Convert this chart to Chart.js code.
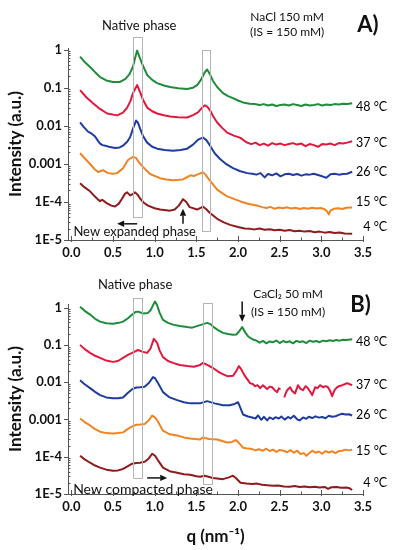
<!DOCTYPE html>
<html><head><meta charset="utf-8">
<script src="https://cdn.jsdelivr.net/npm/chart.js@4/dist/chart.umd.min.js"></script>
<style>
html,body{margin:0;padding:0;background:#fff;}
#wrap{position:relative;width:398px;height:550px;overflow:hidden;}
#ca{position:absolute;left:0;top:0;}
#cb{position:absolute;left:0;top:262px;}
</style></head><body>
<div id="wrap">
<canvas id="ca" width="398" height="262"></canvas>
<canvas id="cb" width="398" height="288"></canvas>
</div>
<script>
// ---------- DATA ----------
const temps = ['48 °C', '37 °C', '26 °C', '15 °C', '4 °C'];
const xTickValues = [0, 0.5, 1, 1.5, 2, 2.5, 3, 3.5];
const xTickLabels = ['0.0', '0.5', '1.0', '1.5', '2.0', '2.5', '3.0', '3.5'];
const yTickValues = [1e-5, 1e-4, 1e-3, 1e-2, 1e-1, 1];
const yTickLabels = ['1E-5', '1E-4', '0.001', '0.01', '0.1', '1'];

// Panel A: NaCl 150 mM  [q, intensity]
const naCl48 = [[0.105,0.65],[0.16,0.47],[0.225,0.35],[0.285,0.255],[0.345,0.19],[0.42,0.155],[0.50,0.141],[0.585,0.141],[0.65,0.17],[0.70,0.23],[0.74,0.36],[0.765,0.60],[0.79,0.94],[0.815,0.66],[0.85,0.42],[0.91,0.216],[0.97,0.16],[1.03,0.132],[1.11,0.114],[1.185,0.104],[1.28,0.096],[1.39,0.092],[1.46,0.10],[1.51,0.117],[1.555,0.16],[1.60,0.25],[1.63,0.30],[1.665,0.22],[1.70,0.15],[1.75,0.104],[1.82,0.072],[1.88,0.060],[1.94,0.053],[2.0,0.046],[2.06,0.041],[2.14,0.038],[2.2,0.037],[2.26,0.035],[2.31,0.037],[2.36,0.034],[2.41,0.036],[2.46,0.033],[2.51,0.035],[2.56,0.036],[2.61,0.034],[2.66,0.037],[2.71,0.035],[2.76,0.033],[2.81,0.036],[2.86,0.034],[2.91,0.035],[2.96,0.037],[3.01,0.034],[3.06,0.036],[3.11,0.035],[3.16,0.037],[3.21,0.036],[3.26,0.038],[3.31,0.037],[3.37,0.039]];
const naCl37 = [[0.105,0.086],[0.18,0.056],[0.26,0.039],[0.34,0.028],[0.43,0.021],[0.55,0.0187],[0.62,0.022],[0.67,0.030],[0.71,0.045],[0.74,0.072],[0.79,0.117],[0.825,0.076],[0.86,0.048],[0.91,0.030],[0.97,0.024],[1.03,0.021],[1.11,0.0188],[1.185,0.0176],[1.28,0.0168],[1.39,0.0165],[1.46,0.019],[1.52,0.0224],[1.57,0.030],[1.605,0.0344],[1.635,0.031],[1.665,0.0254],[1.70,0.018],[1.75,0.0122],[1.81,0.0088],[1.87,0.0066],[1.95,0.0055],[2.03,0.0048],[2.1,0.0037],[2.16,0.0033],[2.21,0.0036],[2.26,0.0031],[2.31,0.0034],[2.36,0.0030],[2.41,0.0035],[2.46,0.0032],[2.51,0.0034],[2.56,0.0031],[2.61,0.0033],[2.66,0.0035],[2.71,0.0032],[2.76,0.0034],[2.81,0.0029],[2.86,0.0033],[2.91,0.0031],[2.96,0.0028],[3.01,0.0033],[3.06,0.0032],[3.11,0.0034],[3.16,0.0031],[3.21,0.0035],[3.26,0.0034],[3.31,0.0036],[3.37,0.0039]];
const naCl26 = [[0.105,0.0122],[0.15,0.0092],[0.2,0.0070],[0.245,0.0062],[0.285,0.0052],[0.32,0.0040],[0.345,0.0034],[0.375,0.0031],[0.405,0.0030],[0.45,0.0028],[0.525,0.0026],[0.58,0.0027],[0.62,0.0030],[0.67,0.0038],[0.705,0.0050],[0.74,0.0084],[0.777,0.0137],[0.80,0.012],[0.825,0.0084],[0.86,0.0054],[0.91,0.0036],[0.97,0.0028],[1.03,0.0025],[1.12,0.0023],[1.22,0.0022],[1.31,0.0023],[1.39,0.0025],[1.46,0.0032],[1.52,0.0043],[1.58,0.0049],[1.62,0.0042],[1.665,0.0030],[1.72,0.0019],[1.785,0.00134],[1.86,0.00098],[1.94,0.00077],[2.02,0.00065],[2.11,0.00057],[2.17,0.00055],[2.22,0.00052],[2.27,0.00057],[2.32,0.00044],[2.36,0.00054],[2.41,0.00050],[2.46,0.00056],[2.51,0.00047],[2.56,0.00053],[2.61,0.00055],[2.66,0.00051],[2.71,0.00054],[2.76,0.00049],[2.81,0.00053],[2.86,0.00052],[2.91,0.00055],[2.96,0.00051],[3.01,0.00047],[3.06,0.00043],[3.11,0.00053],[3.16,0.00055],[3.21,0.00052],[3.26,0.00054],[3.31,0.00055],[3.37,0.00062]];
const naCl15 = [[0.105,0.0019],[0.16,0.0014],[0.225,0.00099],[0.28,0.00072],[0.32,0.00061],[0.38,0.00068],[0.44,0.00057],[0.50,0.00055],[0.55,0.00057],[0.62,0.00077],[0.68,0.00126],[0.74,0.00152],[0.777,0.00143],[0.81,0.0011],[0.85,0.00087],[0.945,0.00054],[1.065,0.00042],[1.14,0.00039],[1.22,0.00037],[1.29,0.00038],[1.34,0.00039],[1.40,0.00046],[1.43,0.00050],[1.47,0.00048],[1.51,0.00052],[1.58,0.00060],[1.61,0.00052],[1.64,0.00042],[1.70,0.00029],[1.75,0.00021],[1.81,0.00017],[1.87,0.00014],[1.95,0.00012],[2.03,0.000103],[2.13,8.8e-5],[2.23,8.0e-5],[2.29,7.3e-5],[2.34,6.9e-5],[2.39,7.4e-5],[2.44,6.6e-5],[2.49,7.1e-5],[2.54,6.8e-5],[2.59,7.2e-5],[2.64,6.7e-5],[2.69,7.0e-5],[2.74,6.5e-5],[2.79,6.9e-5],[2.84,6.6e-5],[2.89,7.0e-5],[2.94,6.7e-5],[2.99,6.9e-5],[3.04,6.4e-5],[3.07,5.6e-5],[3.09,4.7e-5],[3.11,5.9e-5],[3.15,6.6e-5],[3.2,6.8e-5],[3.25,6.5e-5],[3.3,7.0e-5],[3.37,7.1e-5]];
const naCl4 = [[0.105,0.00031],[0.16,0.00024],[0.225,0.00019],[0.28,0.00014],[0.32,0.000116],[0.345,0.000105],[0.37,0.000114],[0.40,0.000102],[0.43,9.1e-5],[0.48,8.0e-5],[0.525,7.6e-5],[0.57,9.0e-5],[0.61,0.000123],[0.645,0.000165],[0.67,0.000178],[0.705,0.000148],[0.735,0.000160],[0.765,0.000178],[0.795,0.000155],[0.825,0.000123],[0.87,9.5e-5],[0.92,8.0e-5],[1.0,6.8e-5],[1.065,6.3e-5],[1.185,5.9e-5],[1.24,6.3e-5],[1.29,8.0e-5],[1.34,0.000118],[1.38,0.0001],[1.42,7.3e-5],[1.51,6.3e-5],[1.58,7.5e-5],[1.62,6.4e-5],[1.66,5.2e-5],[1.75,3.6e-5],[1.83,2.9e-5],[1.905,2.5e-5],[2.0,2.2e-5],[2.08,2.0e-5],[2.145,1.96e-5],[2.2,1.9e-5],[2.26,2.0e-5],[2.32,1.85e-5],[2.38,1.92e-5],[2.44,1.8e-5],[2.5,1.86e-5],[2.56,1.75e-5],[2.62,1.82e-5],[2.68,1.7e-5],[2.74,1.76e-5],[2.8,1.66e-5],[2.86,1.72e-5],[2.92,1.6e-5],[2.98,1.66e-5],[3.04,1.56e-5],[3.1,1.62e-5],[3.16,1.52e-5],[3.22,1.57e-5],[3.28,1.48e-5],[3.37,1.46e-5]];

// Panel B: CaCl2 50 mM  [q, intensity]
const caCl48 = [[0.105,1.06],[0.16,0.82],[0.225,0.65],[0.285,0.5],[0.345,0.42],[0.42,0.38],[0.50,0.37],[0.57,0.39],[0.62,0.42],[0.68,0.52],[0.73,0.65],[0.77,0.76],[0.80,0.78],[0.83,0.74],[0.86,0.70],[0.92,0.72],[0.95,0.85],[0.98,1.15],[1.005,1.45],[1.03,1.15],[1.06,0.72],[1.10,0.47],[1.16,0.39],[1.22,0.35],[1.30,0.32],[1.39,0.30],[1.45,0.29],[1.545,0.34],[1.63,0.39],[1.67,0.36],[1.70,0.31],[1.76,0.25],[1.82,0.21],[1.88,0.195],[1.94,0.186],[1.98,0.19],[2.01,0.225],[2.05,0.30],[2.085,0.22],[2.12,0.17],[2.145,0.155],[2.18,0.14],[2.22,0.13],[2.26,0.115],[2.3,0.128],[2.34,0.11],[2.38,0.124],[2.42,0.118],[2.46,0.131],[2.5,0.112],[2.54,0.127],[2.58,0.118],[2.62,0.125],[2.66,0.11],[2.7,0.128],[2.74,0.12],[2.78,0.125],[2.82,0.112],[2.86,0.13],[2.9,0.121],[2.94,0.127],[2.98,0.118],[3.02,0.13],[3.06,0.125],[3.1,0.133],[3.14,0.127],[3.18,0.135],[3.22,0.13],[3.26,0.138],[3.3,0.135],[3.37,0.142]];
const caCl37 = [[0.105,0.1],[0.16,0.077],[0.225,0.061],[0.285,0.051],[0.345,0.045],[0.42,0.038],[0.50,0.035],[0.56,0.037],[0.62,0.045],[0.68,0.054],[0.73,0.061],[0.80,0.073],[0.85,0.066],[0.91,0.061],[0.95,0.08],[0.99,0.145],[1.03,0.113],[1.06,0.07],[1.10,0.047],[1.16,0.037],[1.22,0.033],[1.30,0.029],[1.39,0.027],[1.47,0.026],[1.545,0.029],[1.58,0.033],[1.63,0.029],[1.70,0.024],[1.78,0.018],[1.87,0.0145],[1.94,0.0148],[1.98,0.02],[2.01,0.027],[2.04,0.022],[2.08,0.015],[2.145,0.0094],[2.18,0.0088],[2.205,0.0078],[2.235,0.0083],[2.265,0.0069],[2.30,0.0083],[2.33,0.0072],[2.35,0.0065],[2.38,0.0076],[2.41,0.0073],[2.44,0.0061],[2.47,0.0054],[2.49,0.0068],[2.51,0.0065],[2.53,null],[2.555,0.0039],[2.575,0.0052],[2.59,0.0061],[2.625,0.0073],[2.65,0.0058],[2.685,0.005],[2.72,0.0083],[2.75,0.0066],[2.78,0.0061],[2.81,0.0078],[2.83,0.0073],[2.86,0.0058],[2.89,0.0045],[2.925,0.0073],[2.955,0.0069],[2.985,0.0083],[3.02,0.0073],[3.05,0.0078],[3.08,0.0073],[3.11,0.0055],[3.13,0.0042],[3.16,0.0062],[3.19,0.0073],[3.22,0.0079],[3.25,0.0083],[3.28,0.0088],[3.31,0.0094],[3.34,0.0088],[3.37,0.0083]];
const caCl26 = [[0.105,0.0113],[0.16,0.0088],[0.225,0.0069],[0.285,0.0055],[0.345,0.0045],[0.42,0.0039],[0.50,0.0037],[0.56,0.0037],[0.62,0.0039],[0.68,0.0052],[0.73,0.0065],[0.78,0.0072],[0.825,0.0073],[0.88,0.0075],[0.93,0.0095],[0.98,0.0137],[1.005,0.0128],[1.04,0.0095],[1.10,0.0054],[1.18,0.0039],[1.27,0.0033],[1.35,0.0029],[1.425,0.0027],[1.545,0.0027],[1.63,0.0031],[1.72,0.0027],[1.82,0.0024],[1.9,0.0024],[1.96,0.0026],[2.0,0.0029],[2.03,0.002],[2.06,0.00136],[2.12,0.0012],[2.17,0.00113],[2.21,0.00106],[2.24,0.00128],[2.28,0.00098],[2.31,0.00118],[2.35,0.00094],[2.38,0.00113],[2.42,0.00102],[2.45,0.00115],[2.49,0.00106],[2.52,0.0012],[2.56,0.00099],[2.6,0.00117],[2.63,0.00106],[2.67,0.00126],[2.71,0.00101],[2.74,0.00094],[2.78,0.00113],[2.82,0.00104],[2.85,0.00118],[2.89,0.00109],[2.93,0.00121],[2.97,0.00112],[3.01,0.00117],[3.05,0.00108],[3.09,0.00126],[3.13,0.00118],[3.17,0.00122],[3.21,0.00133],[3.25,0.00142],[3.29,0.00135],[3.33,0.00138],[3.37,0.00128]];
const caCl15 = [[0.105,0.00106],[0.16,0.00085],[0.225,0.00069],[0.285,0.00055],[0.345,0.00047],[0.42,0.00043],[0.50,0.00042],[0.56,0.00043],[0.62,0.00045],[0.68,0.00056],[0.73,0.00065],[0.78,0.00072],[0.825,0.00073],[0.88,0.00076],[0.93,0.00095],[0.97,0.00128],[1.0,0.00115],[1.03,0.00095],[1.10,0.0005],[1.18,0.0004],[1.27,0.00037],[1.35,0.00033],[1.425,0.00031],[1.545,0.00029],[1.58,0.00033],[1.65,0.0003],[1.75,0.00029],[1.87,0.00024],[1.93,0.00025],[1.97,0.00028],[2.0,0.00025],[2.06,0.000175],[2.12,0.000165],[2.17,0.00016],[2.21,0.000148],[2.25,0.000158],[2.3,0.000145],[2.34,0.000164],[2.38,0.000142],[2.42,0.000155],[2.46,0.000135],[2.5,0.000152],[2.55,0.000145],[2.59,0.000132],[2.63,0.00015],[2.67,0.000128],[2.71,0.000145],[2.75,0.000118],[2.79,0.000125],[2.82,0.000106],[2.85,0.000122],[2.89,0.000145],[2.93,0.000128],[2.97,0.000138],[3.01,0.00012],[3.05,0.000142],[3.09,0.00013],[3.13,0.00014],[3.17,0.000125],[3.21,0.000142],[3.25,0.000145],[3.29,0.000155],[3.33,0.000148],[3.37,0.000155]];
const caCl4 = [[0.105,0.000106],[0.16,8.5e-5],[0.225,6.9e-5],[0.285,5.8e-5],[0.345,5.1e-5],[0.42,4.5e-5],[0.50,4.2e-5],[0.56,4.3e-5],[0.62,4.7e-5],[0.68,5.6e-5],[0.73,6.5e-5],[0.78,6.8e-5],[0.825,6.9e-5],[0.88,7.3e-5],[0.93,9.0e-5],[0.97,0.00012],[1.005,0.000106],[1.04,8.0e-5],[1.10,5.1e-5],[1.18,4.1e-5],[1.27,3.7e-5],[1.35,3.4e-5],[1.425,3.3e-5],[1.5,3.0e-5],[1.545,2.9e-5],[1.6,3.1e-5],[1.70,2.7e-5],[1.82,2.5e-5],[1.89,2.8e-5],[1.94,3.1e-5],[1.98,2.6e-5],[2.03,2.0e-5],[2.1,1.9e-5],[2.17,1.85e-5],[2.23,1.9e-5],[2.29,1.78e-5],[2.35,1.72e-5],[2.42,1.66e-5],[2.48,1.7e-5],[2.55,1.6e-5],[2.62,1.57e-5],[2.68,1.63e-5],[2.74,1.55e-5],[2.8,1.6e-5],[2.86,1.52e-5],[2.92,1.57e-5],[2.98,1.5e-5],[3.04,1.55e-5],[3.08,1.38e-5],[3.12,1.52e-5],[3.18,1.55e-5],[3.24,1.47e-5],[3.3,1.5e-5],[3.34,1.42e-5],[3.37,1.28e-5]];

// ---------- STYLE ----------
const lineColors = ['#1f8c3b', '#e2183e', '#1f3d9e', '#f08424', '#8e1b1d'];
const axisColor = '#555';
const textColor = '#111';
const FONT = 'Lato, "Open Sans", sans-serif';

const annotA = {
  boxes: [{q: [0.74, 0.85], v: [2.1, 4.1e-5]}, {q: [1.57, 1.66], v: [1.0, 1.7e-5]}],
  arrows: [{from: [0.79, 2.66e-5], to: [0.55, 2.66e-5]}, {from: [1.34, 2.66e-5], to: [1.34, 6.6e-5]}],
  texts: [
    {text: 'Native phase', at: [0.815, 4.3], font: '13px ' + FONT},
    {text: 'NaCl 150 mM', at: [2.59, 7.0], font: '12px ' + FONT},
    {text: '(IS = 150 mM)', at: [2.59, 2.8], font: '12px ' + FONT},
    {text: 'A)', at: [3.56, 4.5], font: 'bold 22px ' + FONT},
    {text: 'New expanded phase', at: [0.76, 1.6e-5], font: '13px ' + FONT}
  ],
  labelQ: 3.79,
  labelV: [0.0316, 0.00357, 0.000616, 1.0e-4, 2.2e-5]
};
const annotB = {
  boxes: [{q: [0.74, 0.85], v: [1.86, 2.7e-5]}, {q: [1.58, 1.69], v: [1.36, 1.86e-5]}],
  arrows: [{from: [2.05, 1.45], to: [2.05, 0.42]}, {from: [0.91, 2.7e-5], to: [1.15, 2.7e-5]}],
  texts: [
    {text: 'Native phase', at: [0.765, 4.2], font: '13px ' + FONT},
    {text: 'CaCl₂ 50 mM', at: [2.6, 2.24], font: '12px ' + FONT},
    {text: '(IS = 150 mM)', at: [2.6, 0.78], font: '12px ' + FONT},
    {text: 'B)', at: [3.47, 1.2], font: 'bold 22px ' + FONT},
    {text: 'New compacted phase', at: [0.86, 1.35e-5], font: '14px ' + FONT}
  ],
  labelQ: 3.79,
  labelV: [0.12, 0.0083, 0.00128, 0.000145, 2.0e-5]
};

const decor = {
  id: 'decor',
  afterDraw(chart, args, o) {
    const {ctx, chartArea: ca, scales: {x, y}} = chart;
    const px = q => x.getPixelForValue(q);
    const py = v => y.getPixelForValue(v);
    ctx.save();
    // axis ticks
    ctx.strokeStyle = axisColor; ctx.lineWidth = 1;
    ctx.beginPath();
    for (let d = -5; d <= 0; d++) {
      for (let m = 1; m <= 9; m++) {
        const v = m * Math.pow(10, d);
        if (v < y.min * 0.999 || v > y.max) continue;
        const yy = Math.round(py(v)) + 0.5;
        if (m === 1) { ctx.moveTo(ca.left - 4, yy); ctx.lineTo(ca.left, yy); }
        else { ctx.moveTo(ca.left, yy); ctx.lineTo(ca.left + 2.5, yy); }
      }
    }
    xTickValues.forEach((v, i) => {
      const xx = Math.round(px(v)) + 0.5;
      ctx.moveTo(xx, ca.bottom + 2); ctx.lineTo(xx, ca.bottom - 4);
      if (i < xTickValues.length - 1) {
        const xm = Math.round(px((v + xTickValues[i + 1]) / 2)) + 0.5;
        ctx.moveTo(xm, ca.bottom); ctx.lineTo(xm, ca.bottom - 2.5);
      }
    });
    ctx.stroke();
    // boxes
    ctx.strokeStyle = '#b5b5b5'; ctx.lineWidth = 1;
    o.boxes.forEach(b => {
      const x1 = Math.round(px(b.q[0])) + 0.5, x2 = Math.round(px(b.q[1])) + 0.5;
      const y1 = Math.round(py(b.v[0])) + 0.5, y2 = Math.round(py(b.v[1])) + 0.5;
      ctx.strokeRect(x1, y1, x2 - x1, y2 - y1);
    });
    // arrows
    ctx.strokeStyle = '#111'; ctx.fillStyle = '#111'; ctx.lineWidth = 1.5;
    o.arrows.forEach(a => {
      const x1 = px(a.from[0]), y1 = py(a.from[1]), x2 = px(a.to[0]), y2 = py(a.to[1]);
      const ang = Math.atan2(y2 - y1, x2 - x1), L = 7, W = 3.2;
      const bx = x2 - L * Math.cos(ang), by = y2 - L * Math.sin(ang);
      ctx.beginPath(); ctx.moveTo(x1, y1); ctx.lineTo(bx, by); ctx.stroke();
      ctx.beginPath(); ctx.moveTo(x2, y2);
      ctx.lineTo(bx + W * Math.sin(ang), by - W * Math.cos(ang));
      ctx.lineTo(bx - W * Math.sin(ang), by + W * Math.cos(ang));
      ctx.closePath(); ctx.fill();
    });
    // texts
    ctx.fillStyle = textColor; ctx.textAlign = 'center'; ctx.textBaseline = 'middle';
    o.texts.forEach(t => { ctx.font = t.font; ctx.fillText(t.text, px(t.at[0]), py(t.at[1])); });
    // temperature labels
    ctx.font = '12.5px ' + FONT; ctx.textAlign = 'right'; ctx.fillStyle = '#000';
    temps.forEach((t, i) => ctx.fillText(t, px(o.labelQ), py(o.labelV[i])));
    ctx.restore();
  }
};

function makeChart(id, series, cfg) {
  return new Chart(document.getElementById(id), {
    type: 'line',
    data: {
      datasets: series.map((s, i) => ({
        label: temps[i],
        data: s.map(p => ({x: p[0], y: p[1]})),
        borderColor: lineColors[i], borderWidth: 2, pointRadius: 0, fill: false,
        tension: 0, borderJoinStyle: 'round', spanGaps: false, clip: false
      }))
    },
    options: {
      responsive: false, animation: false, devicePixelRatio: 1,
      layout: {padding: {top: cfg.top, right: 35, left: 0, bottom: 0}},
      plugins: {legend: {display: false}, tooltip: {enabled: false}, decor: cfg.annot},
      scales: {
        x: {
          type: 'linear', min: -0.04, max: 3.5,
          afterBuildTicks: s => { s.ticks = xTickValues.map(v => ({value: v})); },
          afterFit: s => { s.height = cfg.xh; },
          grid: {display: false, drawTicks: false},
          border: {display: true, color: axisColor, width: 1},
          ticks: {autoSkip: false, maxRotation: 0, padding: 5, color: textColor,
                  font: {family: FONT, weight: 'bold', size: 13},
                  callback: (v, i) => xTickLabels[i]},
          title: {display: cfg.xTitle, text: 'q (nm⁻¹)', color: textColor,
                  font: {family: FONT, weight: 'bold', size: 17}, padding: {top: 0, bottom: 3}}
        },
        y: {
          type: 'logarithmic', min: 1e-5, max: cfg.ymax,
          afterBuildTicks: s => { s.ticks = yTickValues.map(v => ({value: v})); },
          afterFit: s => { s.width = 68; },
          grid: {display: false, drawTicks: false},
          border: {display: true, color: axisColor, width: 1},
          ticks: {autoSkip: false, padding: 6, color: textColor,
                  font: {family: FONT, weight: 'bold', size: 13},
                  callback: (v, i) => yTickLabels[i]},
          title: {display: true, text: 'Intensity (a.u.)', color: textColor,
                  font: {family: FONT, weight: 'bold', size: 17}, padding: {top: 5, bottom: 0}}
        }
      }
    },
    plugins: [decor]
  });
}

makeChart('ca', [naCl48, naCl37, naCl26, naCl15, naCl4],
  {top: 48, xh: 22, ymax: 1.1, xTitle: false, annot: annotA});
makeChart('cb', [caCl48, caCl37, caCl26, caCl15, caCl4],
  {top: 42, xh: 56, ymax: 1.25, xTitle: true, annot: annotB});
</script>
</body></html>
